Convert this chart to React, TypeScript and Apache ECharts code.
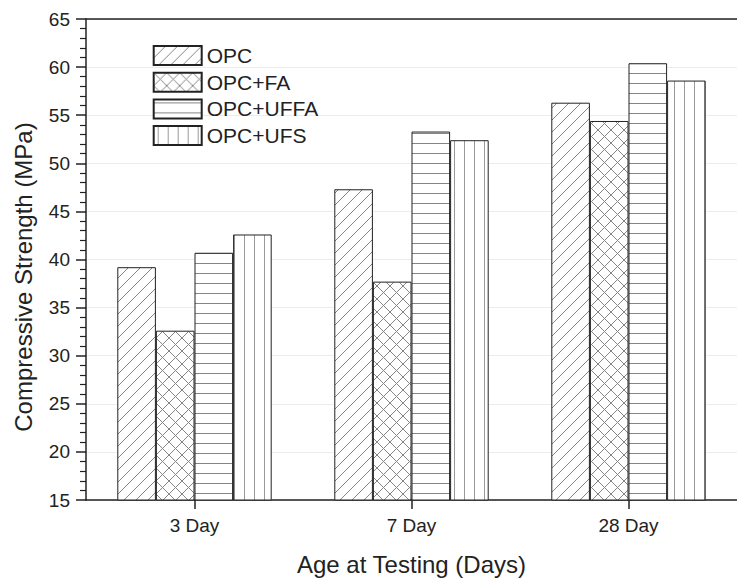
import React, { useEffect, useRef } from "react";
import * as echarts from "echarts";

const categories = ["3 Day", "7 Day", "28 Day"];
const seriesNames = ["OPC", "OPC+FA", "OPC+UFFA", "OPC+UFS"];
const opc = [39.2, 47.3, 56.3];
const opcFa = [32.6, 37.7, 54.4];
const opcUffa = [40.7, 53.3, 60.4];
const opcUfs = [42.6, 52.4, 58.6];
const yTicks = { min: 15, max: 65, interval: 5 };

const FONT = "'Liberation Sans', Arial, sans-serif";
const INK = "#222";

function makePattern(kind: string) {
  const s = kind === "cross" ? 13 : kind === "diag" ? 12 : 10;
  const c = document.createElement("canvas");
  c.width = s;
  c.height = s;
  const g = c.getContext("2d")!;
  g.fillStyle = "#fff";
  g.fillRect(0, 0, s, s);
  g.lineWidth = 1;
  g.strokeStyle = "#858585";
  g.beginPath();
  if (kind === "diag" || kind === "cross") {
    g.moveTo(-1, s + 1);
    g.lineTo(s + 1, -1);
    g.moveTo(-2, 2);
    g.lineTo(2, -2);
    g.moveTo(s - 2, s + 2);
    g.lineTo(s + 2, s - 2);
  }
  if (kind === "cross") {
    g.moveTo(-1, -1);
    g.lineTo(s + 1, s + 1);
    g.moveTo(-2, s - 2);
    g.lineTo(2, s + 2);
    g.moveTo(s - 2, -2);
    g.lineTo(s + 2, 2);
  }
  if (kind === "horiz") {
    g.moveTo(0, 3.5);
    g.lineTo(s, 3.5);
  }
  if (kind === "vert") {
    g.strokeStyle = "#9a9a9a";
    g.moveTo(4.5, 0);
    g.lineTo(4.5, s);
  }
  g.stroke();
  return { image: c, repeat: "repeat", imageWidth: s, imageHeight: s };
}

export default function App() {
  const ref = useRef<HTMLDivElement>(null);
  useEffect(() => {
    if (!ref.current) return;
    const chart = echarts.init(ref.current, null, { renderer: "svg" });
    const kinds = ["diag", "cross", "horiz", "vert"];
    const values = [opc, opcFa, opcUffa, opcUfs];
    const series = seriesNames.map((name, i) => ({
      name,
      type: "bar",
      data: values[i],
      barWidth: 38.6,
      barGap: "0%",
      itemStyle: {
        color: makePattern(kinds[i]),
        borderColor: INK,
        borderWidth: 1,
      },
      emphasis: { disabled: true },
    }));
    chart.setOption({
      animation: false,
      backgroundColor: "#fff",
      textStyle: { fontFamily: FONT },
      grid: { left: 86, right: -9, top: 19, bottom: 77.7, containLabel: false },
      legend: {
        data: seriesNames,
        orient: "vertical",
        left: 152.7,
        top: 45,
        padding: 0,
        icon: "rect",
        itemWidth: 48,
        itemHeight: 19,
        itemGap: 5.7,
        textStyle: { fontSize: 21, color: INK, fontFamily: FONT },
      },
      xAxis: [
        {
          type: "category",
          data: categories,
          position: "bottom",
          axisLine: { show: true, lineStyle: { color: INK, width: 1.5 } },
          axisTick: { show: true, alignWithLabel: true, length: 9, lineStyle: { color: INK, width: 1.5 } },
          axisLabel: { fontSize: 19, color: INK, margin: 16, fontFamily: FONT },
          name: "Age at Testing (Days)",
          nameLocation: "middle",
          nameGap: 52,
          nameTextStyle: { fontSize: 24, color: INK, fontFamily: FONT },
          splitLine: { show: false },
        },
        {
          type: "category",
          data: categories,
          position: "top",
          axisLine: { show: true, lineStyle: { color: INK, width: 1.5 } },
          axisTick: { show: false },
          axisLabel: { show: false },
          splitLine: { show: false },
        },
      ],
      yAxis: {
        type: "value",
        min: yTicks.min,
        max: yTicks.max,
        interval: yTicks.interval,
        axisLine: { show: true, lineStyle: { color: INK, width: 1.5 } },
        axisTick: { show: true, length: 10, lineStyle: { color: INK, width: 1.5 } },
        minorTick: { show: true, splitNumber: 5, length: 6, lineStyle: { color: INK, width: 1.2 } },
        axisLabel: { fontSize: 19, color: INK, margin: 16, fontFamily: FONT },
        splitLine: { show: true, lineStyle: { color: "#ececec", width: 1 } },
      },
      graphic: [
        {
          type: "text",
          x: 23,
          y: 277,
          rotation: Math.PI / 2,
          style: {
            text: "Compressive Strength (MPa)",
            font: `24px ${FONT}`,
            fill: INK,
            textAlign: "center",
            textVerticalAlign: "middle",
          },
        },
      ],
      series,
    });
    return () => chart.dispose();
  }, []);
  return (
    <div
      ref={ref}
      style={{ position: "fixed", left: 0, top: 0, width: 737, height: 581, background: "#fff" }}
    />
  );
}
